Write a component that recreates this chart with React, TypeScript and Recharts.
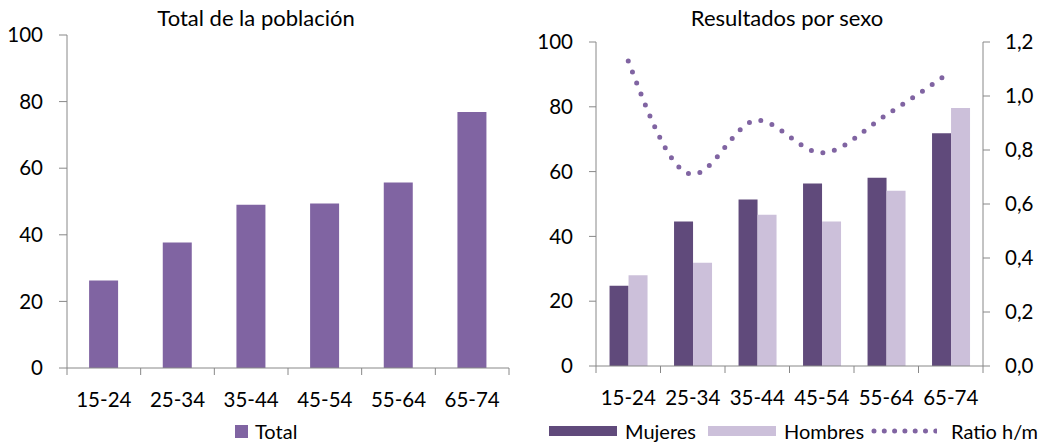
import React from "react";
import { BarChart, ComposedChart, Bar, Line, XAxis, YAxis, Legend } from "recharts";

const categories = ["15-24", "25-34", "35-44", "45-54", "55-64", "65-74"];
const totalValues = [26.3, 37.7, 49.0, 49.4, 55.7, 76.9];
const mujeresValues = [24.8, 44.6, 51.4, 56.3, 58.1, 71.8];
const hombresValues = [28.0, 31.9, 46.7, 44.6, 54.1, 79.6];
const ratioValues = [1.13, 0.71, 0.91, 0.79, 0.93, 1.09];
const countTicks = [0, 20, 40, 60, 80, 100];
const ratioTicks = [0, 0.2, 0.4, 0.6, 0.8, 1.0, 1.2];

const FONT = "Lato, 'Open Sans', sans-serif";
const AXIS = "#888888";
const TOTAL = "#8064A2";
const MUJERES = "#604A7B";
const HOMBRES = "#CCC0DA";
const RATIO = "#8064A2";

const totalData = categories.map((c, i) => ({ name: c, total: totalValues[i] }));
const sexData = categories.map((c, i) => ({
  name: c,
  mujeres: mujeresValues[i],
  hombres: hombresValues[i],
  ratio: ratioValues[i],
}));

// category ticks sit on the band boundaries, like the original
const makeXTick = (band: number, count: number, dyText: number) => (props: any) => {
  const { x, y, payload, index } = props;
  const left = x - band / 2;
  return (
    <g>
      <line x1={left} y1={y} x2={left} y2={y + 7} stroke={AXIS} />
      {index === count - 1 && <line x1={x + band / 2} y1={y} x2={x + band / 2} y2={y + 7} stroke={AXIS} />}
      <text x={x} y={y + dyText} textAnchor="middle" fill="#000" fontSize={20.5} fontFamily={FONT}>
        {payload.value}
      </text>
    </g>
  );
};

const tickStyle = { fill: "#000", fontSize: 20.5, fontFamily: FONT };

const titleStyle = (center: number): React.CSSProperties => ({
  position: "absolute",
  left: center - 200,
  width: 400,
  top: 7,
  textAlign: "center",
  fontFamily: FONT,
  fontSize: 22,
  lineHeight: "22px",
  color: "#000",
});

const legendText: React.CSSProperties = {
  position: "absolute",
  top: 0,
  fontFamily: FONT,
  fontSize: 20,
  lineHeight: "20px",
  color: "#000",
  whiteSpace: "nowrap",
};

const TotalLegend = () => (
  <div style={{ position: "relative", width: 200, height: 20 }}>
    <span style={{ position: "absolute", left: 0, top: 4, width: 13, height: 13, background: TOTAL }} />
    <span style={{ ...legendText, left: 20 }}>Total</span>
  </div>
);

const SexLegend = () => (
  <div style={{ position: "relative", width: 500, height: 20 }}>
    <span style={{ position: "absolute", left: 0, top: 5, width: 68, height: 10, background: MUJERES }} />
    <span style={{ ...legendText, left: 76 }}>Mujeres</span>
    <span style={{ position: "absolute", left: 159, top: 5, width: 68, height: 10, background: HOMBRES }} />
    <span style={{ ...legendText, left: 235 }}>Hombres</span>
    <svg width={66} height={10} style={{ position: "absolute", left: 322, top: 5 }}>
      <line x1={3} y1={5} x2={66} y2={5} stroke={RATIO} strokeWidth={5} strokeLinecap="round" strokeDasharray="0 10.3" />
    </svg>
    <span style={{ ...legendText, left: 402 }}>Ratio h/m</span>
  </div>
);

export default function App() {
  return (
    <div style={{ position: "absolute", left: 0, top: 0, width: 1042, height: 445, background: "#fff", overflow: "hidden" }}>
      <div style={titleStyle(256)}>Total de la población</div>
      <div style={titleStyle(787)}>Resultados por sexo</div>

      <div style={{ position: "absolute", left: 0, top: 0 }}>
        <BarChart width={520} height={445} data={totalData} margin={{ top: 35, right: 11, bottom: 27, left: 0 }} barCategoryGap="30%">
          <XAxis
            dataKey="name"
            height={50}
            axisLine={{ stroke: AXIS }}
            tickLine={false}
            tickSize={0}
            tickMargin={0}
            interval={0}
            tick={makeXTick(442 / 6, categories.length, 39)}
          />
          <YAxis
            width={67}
            domain={[0, 100]}
            ticks={countTicks}
            axisLine={{ stroke: AXIS }}
            tickLine={{ stroke: AXIS }}
            tickSize={8}
            tickMargin={16}
            tick={tickStyle}
          />
          <Legend
            layout="horizontal"
            verticalAlign="middle"
            align="center"
            wrapperStyle={{ left: 235, top: 421, width: 200, height: 20 }}
            content={() => <TotalLegend />}
          />
          <Bar dataKey="total" name="Total" fill={TOTAL} isAnimationActive={false} />
        </BarChart>
      </div>

      <div style={{ position: "absolute", left: 520, top: 0 }}>
        <ComposedChart width={522} height={445} data={sexData} margin={{ top: 42, right: 0, bottom: 29, left: 0 }} barCategoryGap="21%" barGap={0}>
          <XAxis
            dataKey="name"
            height={50}
            axisLine={{ stroke: AXIS }}
            tickLine={false}
            tickSize={0}
            tickMargin={0}
            interval={0}
            tick={makeXTick(387 / 6, categories.length, 38.5)}
          />
          <YAxis
            yAxisId="left"
            width={76}
            domain={[0, 100]}
            ticks={countTicks}
            axisLine={{ stroke: AXIS }}
            tickLine={{ stroke: AXIS }}
            tickSize={7}
            tickMargin={16}
            tick={tickStyle}
          />
          <YAxis
            yAxisId="right"
            orientation="right"
            width={59}
            domain={[0, 1.2]}
            ticks={ratioTicks}
            axisLine={{ stroke: AXIS }}
            tickLine={{ stroke: AXIS }}
            tickSize={7}
            tickMargin={15}
            tick={{ ...tickStyle, textAnchor: "start" }}
            tickFormatter={(v: number) => v.toFixed(1).replace(".", ",")}
          />
          <Legend
            layout="horizontal"
            verticalAlign="middle"
            align="center"
            wrapperStyle={{ left: 29, top: 421, width: 500, height: 20 }}
            content={() => <SexLegend />}
          />
          <Bar yAxisId="left" dataKey="mujeres" name="Mujeres" fill={MUJERES} isAnimationActive={false} />
          <Bar yAxisId="left" dataKey="hombres" name="Hombres" fill={HOMBRES} isAnimationActive={false} />
          <Line
            yAxisId="right"
            dataKey="ratio"
            name="Ratio h/m"
            type="monotone"
            stroke={RATIO}
            strokeWidth={5}
            strokeLinecap="round"
            strokeDasharray="0 11.8"
            dot={false}
            activeDot={false}
            isAnimationActive={false}
          />
        </ComposedChart>
      </div>
    </div>
  );
}
